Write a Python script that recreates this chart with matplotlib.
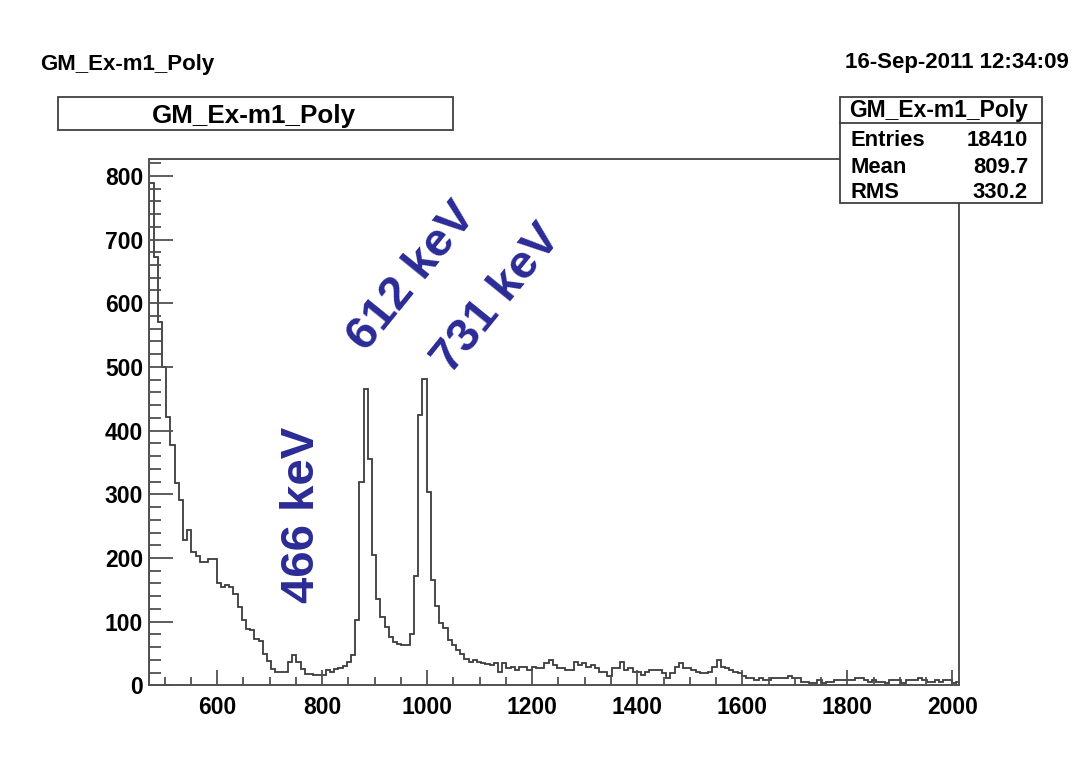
import numpy as np
import matplotlib
matplotlib.use('Agg')
import matplotlib.pyplot as plt
from matplotlib.patches import Rectangle
from matplotlib.ticker import MultipleLocator

plt.rcParams['font.family'] = ['Liberation Sans', 'DejaVu Sans']
plt.rcParams['font.weight'] = 'bold'

hist_name = 'GM_Ex-m1_Poly'
date_str = '16-Sep-2011 12:34:09'

# histogram: 8-unit bins starting at 471
bin_lo = 471
bin_width = 8
counts_low = [788, 672, 571, 500, 422, 377, 317, 291, 228, 244,
              209, 203, 193, 193, 198, 198, 160, 155, 157, 155,
              144, 123, 102, 89, 87, 73, 70, 50, 39]
counts_peaks = [26, 21, 21, 21, 37, 47, 37, 26, 18, 18,
                16, 16, 16, 24, 21, 26, 28, 31, 37, 48,
                102, 319, 466, 355, 205, 135, 107, 92, 76, 68,
                65, 63, 63, 81, 171, 425, 481, 304, 166, 124,
                98, 90, 71, 63, 55, 50, 42]
counts_tail = [37, 40, 37, 35, 33, 32, 35, 21, 35, 27,
               29, 24, 29, 29, 24, 29, 27, 27, 35, 40,
               32, 27, 27, 24, 24, 37, 32, 35, 29, 32,
               27, 21, 21, 14, 27, 27, 37, 24, 27, 21,
               21, 16, 21, 24, 24, 24, 19, 11, 19, 29,
               35, 27, 27, 24, 21, 19, 19, 21, 29, 40,
               29, 27, 24, 21, 19, 14, 11, 11, 8, 11,
               8, 8, 11, 11, 11, 11, 14, 11, 11, 6,
               6, 4, 4, 8, 3, 6, 6, 8, 8, 8,
               8, 8, 12, 12, 8, 6, 8, 6, 6, 3,
               8, 8, 8, 4, 9, 8, 8, 11, 8, 6,
               6, 8, 6, 8, 8, 3, 6]

stats_names = ['Entries', 'Mean', 'RMS']
stats_vals = ['18410', '809.7', '330.2']

peak_labels = ['466 keV', '612 keV', '731 keV']
peak_x = [762, 972, 1134]
peak_y = [268, 641, 606]
peak_rot = [90, 51, 51]

counts = np.concatenate([counts_low, counts_peaks, counts_tail])
edges = bin_lo + bin_width * np.arange(len(counts) + 1)

fig = plt.figure(figsize=(10.79, 7.74), dpi=100)
fig.patch.set_facecolor('white')
ax = fig.add_axes([0.1384, 0.1145, 0.889 - 0.1384, 0.7942 - 0.1145])

ax.stairs(counts, edges, color='#3c3c3c', lw=1.3)
ax.set_xlim(471, 2013)
ax.set_ylim(0, 826)

frame_col = '#505050'
for s in ax.spines.values():
    s.set_color(frame_col)
    s.set_linewidth(1.4)

ax.xaxis.set_major_locator(MultipleLocator(200))
ax.xaxis.set_minor_locator(MultipleLocator(50))
ax.yaxis.set_major_locator(MultipleLocator(100))
ax.yaxis.set_minor_locator(MultipleLocator(20))
ax.tick_params(axis='both', which='both', direction='in', color=frame_col,
               width=1.3, labelsize=16.5, top=False, right=False)
ax.tick_params(axis='y', which='major', length=17.5, pad=4.5)
ax.tick_params(axis='y', which='minor', length=8.7)
ax.tick_params(axis='x', which='major', length=11, pad=7.5)
ax.tick_params(axis='x', which='minor', length=5.5)
for lab in ax.get_xticklabels() + ax.get_yticklabels():
    lab.set_fontweight('bold')

blue = '#2b2b96'
for txt, x, y, r in zip(peak_labels, peak_x, peak_y, peak_rot):
    ax.text(x, y, txt, rotation=r, ha='center', va='center',
            fontsize=34, fontweight='bold', color=blue)

# header line
fig.text(40 / 1079, 1 - 70 / 774, hist_name, ha='left', va='baseline',
         fontsize=16, fontweight='bold')
fig.text(1069 / 1079, 1 - 68 / 774, date_str, ha='right', va='baseline',
         fontsize=16, fontweight='bold')

# title box
fig.patches.append(Rectangle((58 / 1079, 1 - 130 / 774), 395 / 1079, 33 / 774,
                             transform=fig.transFigure, facecolor='white',
                             edgecolor='#404040', lw=1.3, zorder=5))
fig.text(254 / 1079, 1 - 123 / 774, hist_name, ha='center', va='baseline',
         fontsize=18.7, fontweight='bold', zorder=6)

# stats box
fig.patches.append(Rectangle((840 / 1079, 1 - 203 / 774), 202 / 1079, 106 / 774,
                             transform=fig.transFigure, facecolor='white',
                             edgecolor='#404040', lw=1.3, zorder=5))
fig.lines.append(plt.Line2D([840 / 1079, 1042 / 1079], [1 - 123 / 774, 1 - 123 / 774],
                            transform=fig.transFigure, color='#404040', lw=1.3, zorder=6))
fig.text(939 / 1079, 1 - 117 / 774, hist_name, ha='center', va='baseline',
         fontsize=16.5, fontweight='bold', zorder=6)
row_base = [146, 173, 198]
for name, val, yb in zip(stats_names, stats_vals, row_base):
    fig.text(850 / 1079, 1 - yb / 774, name, ha='left', va='baseline',
             fontsize=15.8, fontweight='bold', zorder=6)
    fig.text(1028 / 1079, 1 - yb / 774, val, ha='right', va='baseline',
             fontsize=15.8, fontweight='bold', zorder=6)

fig.savefig('out.png', dpi=100)
